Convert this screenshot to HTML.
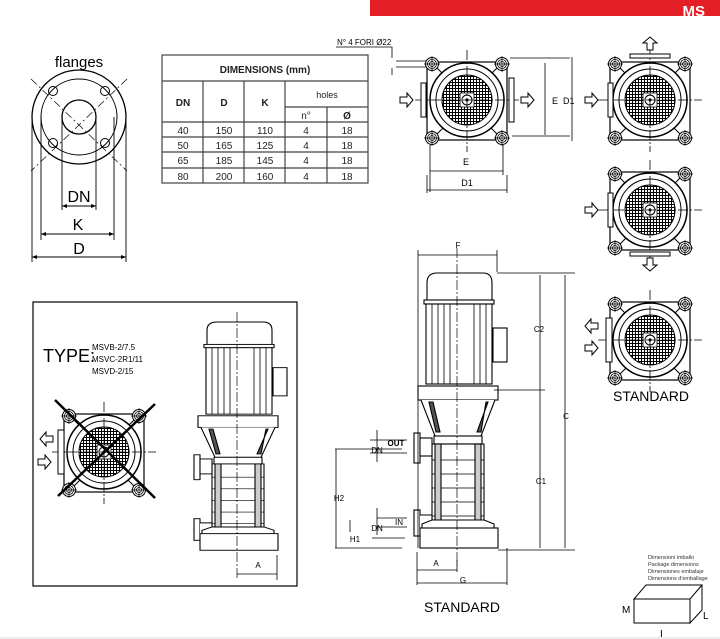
<!DOCTYPE html>
<html><head><meta charset="utf-8"><style>
html,body{margin:0;padding:0;background:#fff}
svg{display:block;font-family:"Liberation Sans",Arial,sans-serif}
</style></head><body>
<svg width="720" height="639" viewBox="0 0 720 639" xmlns="http://www.w3.org/2000/svg">
<defs>
<pattern id="grid" width="3" height="3" patternUnits="userSpaceOnUse">
<rect width="3" height="3" fill="#fff"/>
<path d="M0 0.5H3M0.5 0V3" stroke="#000" stroke-width="1"/>
</pattern>
<g id="bolt"><circle r="6.5" fill="#fff" stroke="#000" stroke-width="1"/><circle r="4.5" fill="none" stroke="#000" stroke-width="0.8"/><circle r="2.5" fill="none" stroke="#000" stroke-width="0.8"/><path d="M-8 0H8M0 -8V8" stroke="#000" stroke-width="0.7"/></g>
<g id="top">
<rect x="-40" y="-38" width="80" height="78" fill="#fff" stroke="#000" stroke-width="1.2"/>
<path d="M-34 -36L-20 -22M34 -36L20 -22M-34 38L-20 24M34 38L20 24" stroke="#000" stroke-width="1"/>
<use href="#bolt" x="-35" y="-36"/><use href="#bolt" x="35" y="-36"/><use href="#bolt" x="-35" y="38"/><use href="#bolt" x="35" y="38"/>
<circle r="37" fill="#fff" stroke="#000" stroke-width="1.5"/>
<circle r="31" fill="none" stroke="#000" stroke-width="1"/>
<circle r="25" fill="url(#grid)" stroke="#000" stroke-width="1"/>
<rect x="-7" y="-7" width="14" height="14" fill="#fff" stroke="#000" stroke-width="0.8"/>
<circle r="5" fill="#fff" stroke="#000" stroke-width="1"/><circle r="1.5" fill="#000"/>
<path d="M0 -50V52M-52 0H52" stroke="#000" stroke-width="0.8" stroke-dasharray="10 2 2 2"/>
</g>
<g id="arr"><path d="M0 -3H7V-7L13 0L7 7V3H0Z" fill="#fff" stroke="#000" stroke-width="1"/></g>
</defs>

<rect x="370" y="0" width="350" height="16" fill="#e31e24"/>
<text x="705" y="16" font-size="15" font-weight="bold" fill="#fff" text-anchor="end">MS</text>

<text x="79" y="67" font-size="15" text-anchor="middle">flanges</text>
<g stroke="#000" fill="none">
<circle cx="79" cy="117" r="47" stroke-width="1.3"/>
<circle cx="79" cy="117" r="38" stroke-width="1"/>
<circle cx="79" cy="117" r="17" stroke-width="1.3"/>
<circle cx="53" cy="91" r="4.5"/><circle cx="105" cy="91" r="4.5"/><circle cx="53" cy="143" r="4.5"/><circle cx="105" cy="143" r="4.5"/>
<path d="M31 79L127 171M127 79L31 171" stroke-width="0.7" stroke-dasharray="8 3 2 3"/>
<path d="M62 117V210M96 117V210M41 117V240M114 117V240M32 117V262M126 117V262" stroke-width="0.9"/>
<path d="M62 206H96M41 234H114M32 257H126" stroke-width="1"/>
</g>
<path d="M62 206l5-2v4zM96 206l-5-2v4zM41 234l5-2v4zM114 234l-5-2v4zM32 257l5-2v4zM126 257l-5-2v4z" fill="#000"/>
<text x="79" y="202" font-size="16" text-anchor="middle">DN</text>
<text x="78" y="230" font-size="16" text-anchor="middle">K</text>
<text x="79" y="254" font-size="16" text-anchor="middle">D</text>

<g stroke="#444" stroke-width="1.2" fill="none">
<rect x="162" y="55" width="206" height="128"/>
<path d="M162 81H368M285 107H368M162 122H368M162 137H368M162 152H368M162 168H368M203 81V183M244 81V183M285 81V183M327 107V183"/>
</g>
<g font-size="10" text-anchor="middle" fill="#222">
<text x="265" y="73" font-weight="bold">DIMENSIONS (mm)</text>
<text x="183" y="106" font-weight="bold">DN</text><text x="224" y="106" font-weight="bold">D</text><text x="265" y="106" font-weight="bold">K</text>
<text x="327" y="98" font-size="9">holes</text><text x="306" y="119">n°</text><text x="347" y="119" font-weight="bold">Ø</text>
<text x="183" y="134">40</text><text x="224" y="134">150</text><text x="265" y="134">110</text><text x="306" y="134">4</text><text x="347" y="134">18</text>
<text x="183" y="149">50</text><text x="224" y="149">165</text><text x="265" y="149">125</text><text x="306" y="149">4</text><text x="347" y="149">18</text>
<text x="183" y="164">65</text><text x="224" y="164">185</text><text x="265" y="164">145</text><text x="306" y="164">4</text><text x="347" y="164">18</text>
<text x="183" y="180">80</text><text x="224" y="180">200</text><text x="265" y="180">160</text><text x="306" y="180">4</text><text x="347" y="180">18</text>
</g>

<text x="337" y="45" font-size="8">N° 4 FORI Ø22</text>
<path d="M336 47H392V58M392 68V75M396 61H430M396 67H430" stroke="#000" stroke-width="0.8" fill="none"/>
<use href="#top" x="467" y="100"/>
<rect x="509" y="78" width="5" height="44" fill="#fff" stroke="#000"/>
<rect x="421" y="83" width="5" height="34" fill="#fff" stroke="#000"/>
<use href="#arr" x="400" y="100"/><use href="#arr" x="521" y="100"/>
<g stroke="#000" stroke-width="0.8" fill="none">
<path d="M510 58H570M512 136H570M545 63V135M572 57V141M430 145V192M503 145V175M427 175V193M507 175V193M430 171H503M427 190H507"/>
</g>
<text x="552" y="104" font-size="9">E</text><text x="563" y="104" font-size="9">D1</text>
<text x="466" y="165" font-size="9" text-anchor="middle">E</text><text x="467" y="186" font-size="9" text-anchor="middle">D1</text>

<use href="#top" x="650" y="100"/>
<rect x="608" y="83" width="5" height="34" fill="#fff" stroke="#000"/>
<rect x="630" y="54" width="40" height="4" fill="#fff" stroke="#000"/>
<use href="#arr" transform="translate(650,50) rotate(-90)"/>
<use href="#arr" x="585" y="100"/>

<use href="#top" x="650" y="210"/>
<rect x="608" y="193" width="5" height="34" fill="#fff" stroke="#000"/>
<rect x="630" y="252" width="40" height="4" fill="#fff" stroke="#000"/>
<use href="#arr" transform="translate(650,258) rotate(90)"/>
<use href="#arr" x="585" y="210"/>

<use href="#top" x="650" y="340"/>
<rect x="606" y="318" width="6" height="44" fill="#fff" stroke="#000"/>
<use href="#arr" transform="translate(598,326) rotate(180)"/>
<use href="#arr" x="585" y="348"/>
<text x="651" y="401" font-size="14" text-anchor="middle">STANDARD</text>

<g id="side" stroke="#000" fill="#fff" stroke-width="1.1">
<path d="M427 300V283Q427 273 437 273H483Q492 273 492 283V300Z"/>
<rect x="424" y="300" width="70" height="4"/>
<rect x="426" y="304" width="66" height="80"/>
<path d="M432 304V384M438 304V384M444 304V384M450 304V384M474 304V384M480 304V384M486 304V384" stroke-width="0.8"/>
<rect x="493" y="328" width="14" height="34"/>
<rect x="418" y="386" width="80" height="14"/>
<path d="M421 400L435 436H481L495 400"/>
<path d="M429 402L436 432H440L433 402ZM488 402L477 432H481L486 402Z" fill="#555"/>
<rect x="434" y="436" width="48" height="8"/>
<rect x="432" y="444" width="52" height="80"/>
<path d="M432 460H484M432 474H484M432 488H484M432 502H484M432 516H484" stroke-width="0.8"/>
<rect x="435" y="444" width="6" height="82" fill="#ccc"/><rect x="475" y="444" width="6" height="82" fill="#ccc"/>
<rect x="414" y="433" width="6" height="30"/><rect x="420" y="438" width="12" height="18"/>
<rect x="414" y="510" width="6" height="26"/><path d="M420 515H432V530H420"/>
<path d="M422 524L432 520H484L494 524V538H422Z"/>
<rect x="420" y="528" width="78" height="20"/>
</g>
<path d="M457 248V565" stroke="#000" stroke-width="0.7" stroke-dasharray="10 2 2 2"/>
<g stroke="#000" stroke-width="0.8" fill="none">
<path d="M418 255H497M418 250V548M497 250V272M497 273H575M494 390H545M498 550H575M540 275V548M565 275V548"/>
<path d="M335 449H402M336 449V548M335 548H402M370 440H407M370 453H407M377 430V462M377 518H407M377 527H407M377 508V535M350 520V532M372 538H405M417 552V585M457 560V572M507 548V585M417 570H457M417 583H507"/>
</g>
<g font-size="8" text-anchor="middle">
<text x="458" y="248">F</text><text x="539" y="332">C2</text><text x="566" y="419">C</text><text x="541" y="484">C1</text>
<text x="339" y="501">H2</text><text x="355" y="542">H1</text><text x="377" y="453">DN</text><text x="377" y="531">DN</text>
<text x="396" y="446" font-weight="bold">OUT</text><text x="399" y="525">IN</text>
<text x="436" y="566">A</text><text x="463" y="583">G</text>
</g>
<text x="462" y="612" font-size="14" text-anchor="middle">STANDARD</text>

<rect x="33" y="302" width="264" height="284" fill="none" stroke="#000" stroke-width="1.2"/>
<text x="43" y="362" font-size="18">TYPE:</text>
<g font-size="8"><text x="92" y="350">MSVB-2/7.5</text><text x="92" y="362">MSVC-2R1/11</text><text x="92" y="374">MSVD-2/15</text></g>
<use href="#top" x="104" y="452"/>
<rect x="58" y="430" width="6" height="44" fill="#fff" stroke="#000"/>
<use href="#arr" transform="translate(53,439) rotate(180)"/>
<use href="#arr" x="38" y="462"/>
<path d="M55 400L155 498M155 404L58 496" stroke="#000" stroke-width="2.5"/>
<g transform="translate(237,322) scale(1,0.83) translate(-457,-273)"><use href="#side"/></g>
<path d="M237 312V578" stroke="#000" stroke-width="0.7" stroke-dasharray="10 2 2 2"/>
<path d="M277 555V580M237 574H277" stroke="#000" stroke-width="0.8"/>
<text x="258" y="568" font-size="8" text-anchor="middle">A</text>

<g font-size="5.5" fill="#333"><text x="648" y="559">Dimensioni imballo</text><text x="648" y="566">Package dimensions</text><text x="648" y="573">Dimensiones embalaje</text><text x="648" y="580">Dimensions d'emballage</text></g>
<path d="M634 599L646 585H702L690 599ZM690 599V623L702 610V585" fill="#fff" stroke="#000" stroke-width="1"/>
<rect x="634" y="599" width="56" height="24" fill="#fff" stroke="#000" stroke-width="1"/>
<text x="622" y="613" font-size="10">M</text><text x="703" y="619" font-size="10">L</text><text x="660" y="637" font-size="10">I</text>
<rect x="0" y="637" width="720" height="2" fill="#eee"/>
</svg>
</body></html>
